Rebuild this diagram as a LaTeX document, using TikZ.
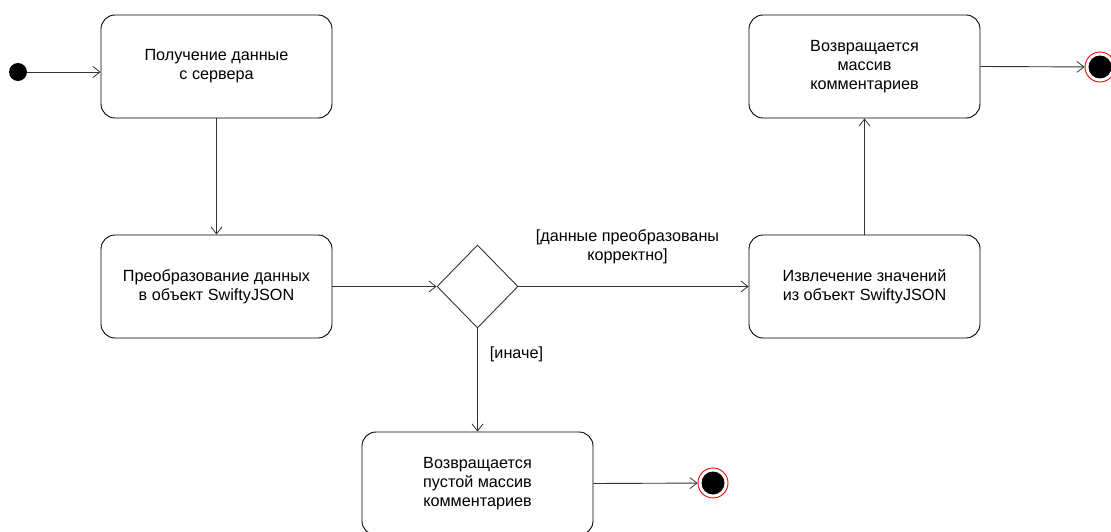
\documentclass[tikz,border=0pt]{standalone}
\usepackage{fontspec}
\setmainfont{Liberation Sans}
\usetikzlibrary{shapes.geometric,arrows.meta}
\begin{document}
\begin{tikzpicture}[x=1pt,y=-1pt,
  font=\fontsize{16.2}{19.2}\selectfont,
  action/.style={draw=black,line width=0.9pt,rounded corners=14pt,minimum width=231pt,minimum height=103pt,align=center,inner sep=0pt},
  flow/.style={draw=black!80,line width=0.9pt,-{Straight Barb[length=7pt,width=11pt,line width=0.8pt]}},
  guard/.style={align=center,inner sep=0pt}]
\useasboundingbox (0,0) rectangle (1111,532);
\begin{scope}
\clip (0,0) rectangle (1111,532);
% start and end markers
\node[circle,fill=black,minimum size=18pt,inner sep=0pt] (start) at (18,72) {};
\node[circle,draw=red,line width=0.9pt,fill=white,minimum size=30pt,inner sep=0pt] (endA) at (1100,67) {};
\fill[black] (endA.center) circle (11.5pt);
\node[circle,draw=red,line width=0.9pt,fill=white,minimum size=30pt,inner sep=0pt] (endB) at (713,483) {};
\fill[black] (endB.center) circle (11.5pt);
% activities
\node[action] (fetch) at (216.5,66.5) {Получение данные\\с сервера};
\node[action] (parse) at (216.5,286.5) {Преобразование данных\\в объект SwiftyJSON};
\node[draw=black!80,line width=0.9pt,diamond,minimum width=81pt,minimum height=83pt,inner sep=0pt] (check) at (477.5,286.5) {};
\node[action] (extract) at (864.5,286.5) {Извлечение значений\\из объект SwiftyJSON};
\node[action] (result) at (864.5,66.5) {Возвращается\\массив\\комментариев};
\node[action] (empty) at (477.5,483.5) {Возвращается\\пустой массив\\комментариев};
% transitions
\draw[flow] (start) -- (fetch.west |- start);
\draw[flow] (fetch) -- (parse);
\draw[flow] (parse) -- (check.west);
\draw[flow] (check.east) -- (extract.west) node[guard,midway,above=22pt,xshift=-6pt] {[данные преобразованы\\корректно]};
\draw[flow] (check.south) -- (empty.north) node[guard,pos=0.25,right=12pt] {[иначе]};
\draw[flow] (extract) -- (result);
\draw[flow] (result.east) -- (endA);
\draw[flow] (empty.east) -- (endB);
\end{scope}
\end{tikzpicture}
\end{document}
